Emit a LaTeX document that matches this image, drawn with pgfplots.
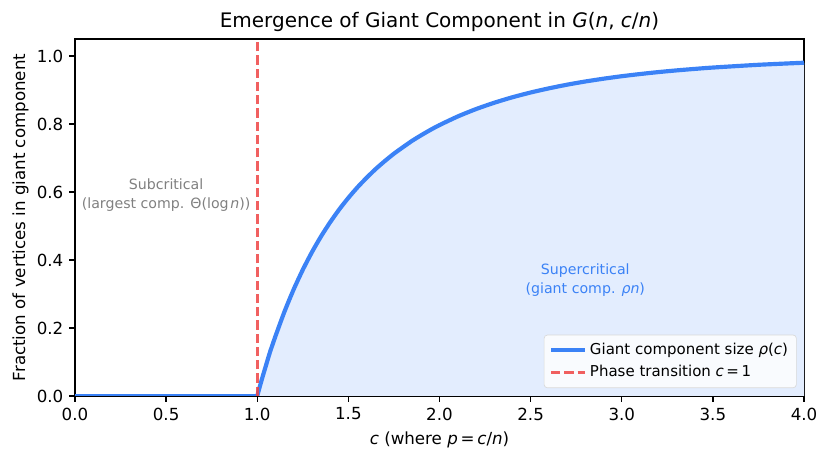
\documentclass[border=0pt]{standalone}
\usepackage{pgfplots}
\pgfplotsset{compat=1.18}
\usepackage{fontspec}
\setmainfont{DejaVu Sans}

\definecolor{curveblue}{HTML}{3B82F6}
\definecolor{fillblue}{HTML}{E3EDFE}
\definecolor{phasered}{HTML}{EF4444}

% giant component fraction rho(c), solved from rho = 1 - exp(-c rho)
% subcritical part: rho = 0
\pgfplotstableread{
c     rho
0.00  0
0.50  0
1.00  0
}\subtable

% supercritical part
\pgfplotstableread{
c     rho
1.00  0
1.01  0.0197
1.02  0.0392
1.03  0.0578
1.05  0.0937
1.07  0.1292
1.10  0.1760
1.15  0.2490
1.20  0.3137
1.25  0.3714
1.30  0.4230
1.35  0.4694
1.40  0.5110
1.45  0.5488
1.50  0.5828
1.55  0.6138
1.60  0.6418
1.65  0.6677
1.70  0.6910
1.75  0.7127
1.80  0.7320
1.85  0.7506
1.90  0.7671
1.95  0.7826
2.00  0.7968
2.10  0.8221
2.20  0.8438
2.30  0.8624
2.40  0.8786
2.50  0.8926
2.60  0.9048
2.70  0.9156
2.80  0.9250
2.90  0.9332
3.00  0.9405
3.10  0.9469
3.20  0.9526
3.30  0.9576
3.40  0.9620
3.50  0.9660
3.75  0.9741
4.00  0.9802
}\supertable

\begin{document}
\begin{tikzpicture}
\begin{axis}[
    name=ax,
    scale only axis,
    width=437.4pt, height=214.2pt,
    xmin=0, xmax=4, ymin=0, ymax=1.05,
    xtick={0,0.5,...,4}, ytick={0,0.2,...,1},
    xticklabel style={/pgf/number format/.cd,fixed,fixed zerofill,precision=1},
    yticklabel style={/pgf/number format/.cd,fixed,fixed zerofill,precision=1},
    /pgf/number format/assume math mode=true,
    tick style={black, line width=0.8pt},
    tick align=outside,
    major tick length=3.5pt,
    xtick pos=bottom, ytick pos=left,
    axis line style={line width=0.8pt},
    ticklabel style={font=\fontsize{10}{12}\selectfont},
    title={Emergence of Giant Component in \textit{G}(\textit{n}, \textit{c}/\textit{n})},
    title style={font=\fontsize{12}{14}\selectfont, yshift=-5pt},
    xlabel={\textit{c} (where \textit{p}\,=\,\textit{c}/\textit{n})},
    ylabel={Fraction of vertices in giant component},
    label style={font=\fontsize{10}{12}\selectfont},
    ylabel style={yshift=-2pt},
    legend style={at={(0.99,0.022)}, anchor=south east,
      font=\fontsize{9}{11}\selectfont,
      draw=black!15, fill=white, fill opacity=0.8, text opacity=1,
      rounded corners=2pt, inner sep=3pt, row sep=1pt},
    legend image code/.code={\draw[#1] (0pt,0pt) -- (20pt,0pt);},
    legend cell align=left,
    clip=true,
]
\addplot[draw=none, fill=fillblue, forget plot] table[x=c, y=rho] {\supertable} \closedcycle;
\addplot[curveblue, line width=2.5pt, forget plot] table[x=c, y=rho] {\subtable};
\addplot[curveblue, line width=2.5pt, smooth, tension=0.4] table[x=c, y=rho] {\supertable};
\addlegendentry{Giant component size \textit{ρ}(\textit{c})}
\addplot[phasered, line width=1.5pt, opacity=0.85, dash pattern=on 5.55pt off 2.4pt] coordinates {(1,0) (1,1.05)};
\addlegendentry{Phase transition \textit{c}\,=\,1}
\node[align=center, text=gray, font=\fontsize{8.5}{11.5}\selectfont] at (axis cs:0.5,0.59)
  {Subcritical\\(largest comp. Θ(log\kern1pt\textit{n}))};
\node[align=center, text=curveblue, font=\fontsize{8.5}{11.5}\selectfont] at (axis cs:2.8,0.34)
  {Supercritical\\(giant comp. \textit{ρn})};
\end{axis}
\pgfresetboundingbox
\path ([shift={(-45pt,-42pt)}]ax.south west) rectangle ([shift={(15pt,23.4pt)}]ax.north east);
\end{tikzpicture}
\end{document}
